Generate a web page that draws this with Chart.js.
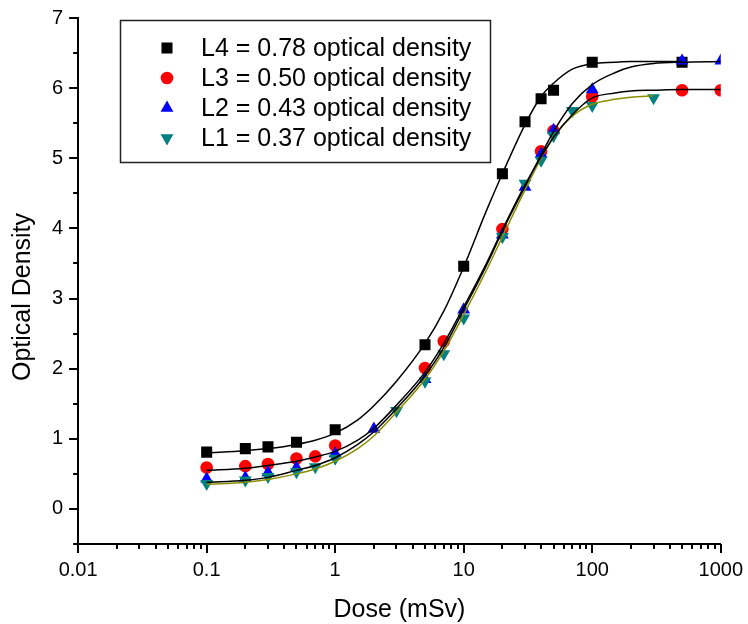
<!DOCTYPE html>
<html><head><meta charset="utf-8">
<script src="https://cdn.jsdelivr.net/npm/chart.js@4.4.1/dist/chart.umd.min.js"></script>
<style>html,body{margin:0;padding:0;background:#fff}canvas{display:block}</style>
</head><body>
<canvas id="c" width="748" height="624"></canvas>
<script>
// ---- data ----
const seriesNames = ['L4 = 0.78 optical density','L3 = 0.50 optical density','L2 = 0.43 optical density','L1 = 0.37 optical density'];
const xAxisTitle = 'Dose (mSv)';
const yAxisTitle = 'Optical Density';

const doseL4 = [0.1,0.2,0.3,0.5,1,5,10,20,30,40,50,100,500];
const odL4   = [0.81,0.86,0.885,0.95,1.13,2.34,3.46,4.78,5.52,5.85,5.97,6.37,6.37];
const doseL3 = [0.1,0.2,0.3,0.5,0.7,1,5,7,20,40,50,100,500,1000];
const odL3   = [0.59,0.61,0.64,0.72,0.75,0.905,2.01,2.39,3.99,5.10,5.39,5.88,5.97,5.97];
const doseL2 = [0.1,0.2,0.3,0.5,1,2,5,10,20,30,40,50,100,500,1000];
const odL2   = [0.43,0.445,0.52,0.59,0.79,1.14,1.85,2.84,3.91,4.59,5.06,5.40,5.98,6.39,6.39];
const doseL1 = [0.1,0.2,0.3,0.5,0.7,1,3,5,7,10,20,30,40,50,70,100,300];
const odL1   = [0.36,0.41,0.46,0.53,0.60,0.72,1.40,1.82,2.21,2.72,3.88,4.64,4.97,5.32,5.68,5.75,5.86];

// fitted curves
const fitDoseL4 = [0.1,0.2,0.3,0.5,0.7,1,1.5,2,3,5,7,10,15,20,30,40,50,70,100,150,200,300,500];
const fitOdL4   = [0.80,0.83,0.86,0.92,0.98,1.08,1.27,1.47,1.82,2.36,2.82,3.45,4.25,4.78,5.48,5.88,6.07,6.27,6.35,6.37,6.38,6.38,6.38];
const fitDoseL3 = [0.1,0.2,0.3,0.5,0.7,1,1.5,2,3,5,7,10,15,20,30,40,50,70,100,150,200,300,500,1000];
const fitOdL3   = [0.55,0.58,0.62,0.68,0.74,0.82,0.98,1.15,1.48,1.95,2.36,2.88,3.50,3.98,4.62,5.02,5.30,5.62,5.86,5.93,5.96,5.97,5.98,5.98];
const fitDoseL2 = [0.1,0.2,0.3,0.5,0.7,1,1.5,2,3,5,7,10,15,20,30,40,50,70,100,150,200,300,500,1000];
const fitOdL2   = [0.38,0.41,0.45,0.55,0.62,0.73,0.92,1.10,1.43,1.90,2.30,2.84,3.47,3.96,4.60,5.05,5.38,5.78,6.05,6.22,6.30,6.35,6.37,6.38];
const fitDoseL1 = [0.1,0.2,0.3,0.5,0.7,1,1.5,2,3,5,7,10,15,20,30,40,50,70,100,150,200,300];
const fitOdL1   = [0.35,0.38,0.42,0.50,0.57,0.68,0.86,1.04,1.38,1.85,2.25,2.77,3.40,3.88,4.55,5.00,5.30,5.60,5.77,5.84,5.87,5.89];

const xMajorTicks = [0.01,0.1,1,10,100,1000];
const xTickLabels = ['0.01','0.1','1','10','100','1000'];
const yMajorTicks = [0,1,2,3,4,5,6,7];
const yTickLabels = ['0','1','2','3','4','5','6','7'];

const pts = (xs, ys) => xs.map((x,i)=>({x:x, y:ys[i]}));
const FONT = '"Liberation Sans", Arial, sans-serif';

function isMajorX(v){ return xMajorTicks.some(m => Math.abs(v-m)/m < 1e-6); }

function markerPath(ctx, style, r, rot, x, y){
  ctx.beginPath();
  if (style === 'rect') {
    const s = Math.SQRT1_2 * r;
    ctx.rect(x - s, y - s, 2*s, 2*s);
  } else if (style === 'circle') {
    ctx.arc(x, y, r, 0, Math.PI*2);
  } else if (style === 'triangle') {
    let a = rot * Math.PI/180;
    for (let k=0;k<3;k++){
      const px = x + Math.sin(a)*r, py = y - Math.cos(a)*r;
      if (k===0) ctx.moveTo(px,py); else ctx.lineTo(px,py);
      a += 2*Math.PI/3;
    }
    ctx.closePath();
  }
}

const legendPlugin = {
  id: 'boxLegend',
  afterDraw(chart){
    const ctx = chart.ctx;
    ctx.save();
    ctx.strokeStyle = '#222';
    ctx.lineWidth = 1.5;
    ctx.strokeRect(120.5, 20.5, 370, 142);
    const items = chart.data.datasets.filter(d => d.legendRow !== undefined)
      .sort((a,b)=>a.legendRow-b.legendRow);
    items.forEach((d,i)=>{
      const y = 48 + i*30;
      ctx.fillStyle = d.backgroundColor;
      markerPath(ctx, d.pointStyle, d.pointRadius, d.pointRotation||0, 167, y);
      ctx.fill();
      ctx.fillStyle = '#000';
      ctx.font = '25px ' + FONT;
      ctx.textBaseline = 'middle';
      ctx.textAlign = 'left';
      ctx.fillText(d.label, 201, y + 1);
    });
    ctx.restore();
  }
};

const yTitlePlugin = {
  id: 'yTitle',
  afterDraw(chart){
    const ctx = chart.ctx;
    ctx.save();
    ctx.translate(23, 297);
    ctx.rotate(-Math.PI/2);
    ctx.fillStyle = '#000';
    ctx.font = '25px ' + FONT;
    ctx.textAlign = 'center';
    ctx.textBaseline = 'middle';
    ctx.fillText(yAxisTitle, 0, 0);
    ctx.restore();
  }
};

const tickPlugin = {
  id: 'axisTicks',
  afterDraw(chart){
    const ctx = chart.ctx;
    const xs = chart.scales.x, ys = chart.scales.y;
    ctx.save();
    ctx.strokeStyle = '#000';
    ctx.lineWidth = 2;
    xs.ticks.forEach(t=>{
      const px = Math.round(xs.getPixelForValue(t.value));
      const len = isMajorX(t.value) ? 9 : 5;
      ctx.beginPath(); ctx.moveTo(px, xs.top); ctx.lineTo(px, xs.top + len); ctx.stroke();
    });
    ys.ticks.forEach(t=>{
      const py = Math.round(ys.getPixelForValue(t.value));
      const len = yMajorTicks.includes(t.value) ? 9 : 5;
      ctx.beginPath(); ctx.moveTo(ys.right, py); ctx.lineTo(ys.right - len, py); ctx.stroke();
    });
    ctx.restore();
  }
};

const markerSets = [
  {label: seriesNames[0], data: pts(doseL4, odL4), pointStyle:'rect', pointRadius:7.8, color:'#000000', order:4, row:0},
  {label: seriesNames[1], data: pts(doseL3, odL3), pointStyle:'circle', pointRadius:6.3, color:'#FF0000', order:3, row:1},
  {label: seriesNames[2], data: pts(doseL2, odL2), pointStyle:'triangle', pointRadius:7.4, color:'#0000FF', order:2, row:2},
  {label: seriesNames[3], data: pts(doseL1, odL1), pointStyle:'triangle', pointRadius:7.4, color:'#008080', order:1, row:3, rot:180}
].map(s => ({
  label: s.label, data: s.data, showLine: false,
  pointStyle: s.pointStyle, pointRadius: s.pointRadius, pointHoverRadius: s.pointRadius,
  pointRotation: s.rot || 0, pointBorderWidth: 0,
  backgroundColor: s.color, borderColor: s.color, order: s.order, legendRow: s.row
}));

const curveSets = [
  {data: pts(fitDoseL4, fitOdL4), color:'#000000'},
  {data: pts(fitDoseL3, fitOdL3), color:'#000000'},
  {data: pts(fitDoseL2, fitOdL2), color:'#000000'},
  {data: pts(fitDoseL1, fitOdL1), color:'#8C8C00'}
].map(s => ({
  label: 'fit', data: s.data, showLine: true, pointRadius: 0, pointHoverRadius: 0,
  borderColor: s.color, backgroundColor: s.color, borderWidth: 1.5,
  cubicInterpolationMode: 'monotone', fill: false, order: 0
}));

new Chart(document.getElementById('c'), {
  type: 'scatter',
  data: { datasets: [...curveSets, ...markerSets] },
  options: {
    responsive: false, animation: false, devicePixelRatio: 1, events: [],
    layout: { padding: { top: 17, right: 22, left: 46, bottom: 0 } },
    plugins: { legend: { display: false }, tooltip: { enabled: false } },
    scales: {
      x: {
        type: 'logarithmic', position: 'bottom', min: 0.01, max: 1000,
        afterBuildTicks: (scale) => {
          const t = [];
          xMajorTicks.forEach(d => { for (let m = 1; m <= 9; m++) { const v = d*m; if (v <= 1000*1.000001) t.push({value: v}); } });
          scale.ticks = t;
        },
        ticks: {
          autoSkip: false, maxRotation: 0, minRotation: 0, padding: 5, color: '#000',
          font: { family: FONT, size: 20, lineHeight: 1.2 },
          callback: (v) => { const i = xMajorTicks.findIndex(m => Math.abs(v-m)/m < 1e-6); return i >= 0 ? xTickLabels[i] : ''; }
        },
        grid: { display: true, drawOnChartArea: false, drawTicks: true, tickLength: 9, color: 'rgba(0,0,0,0)' },
        border: { display: true, color: '#000', width: 2 },
        title: { display: true, text: xAxisTitle, color: '#000', font: { family: FONT, size: 25, lineHeight: 1 }, padding: { top: 11, bottom: 1 } }
      },
      y: {
        type: 'linear', min: -0.5, max: 7,
        ticks: {
          stepSize: 0.5, autoSkip: false, padding: 6, color: '#000',
          font: { family: FONT, size: 20, lineHeight: 1.2 },
          callback: (v) => { const i = yMajorTicks.indexOf(v); return i >= 0 ? yTickLabels[i] : ''; }
        },
        grid: { display: true, drawOnChartArea: false, drawTicks: true, tickLength: 9, color: 'rgba(0,0,0,0)' },
        border: { display: true, color: '#000', width: 2 },
        title: { display: false }
      }
    }
  },
  plugins: [tickPlugin, legendPlugin, yTitlePlugin]
});
</script>
</body></html>
